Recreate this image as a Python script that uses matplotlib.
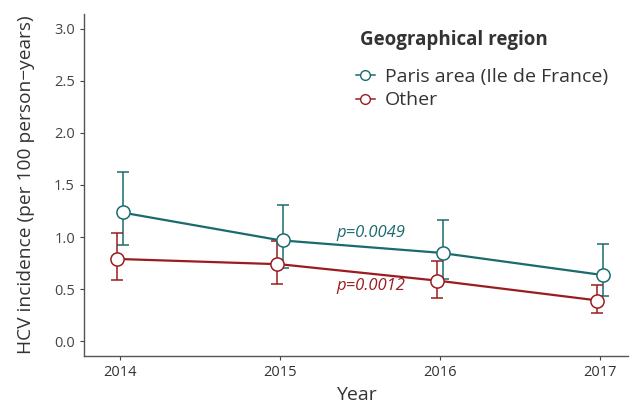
import matplotlib.pyplot as plt
from matplotlib.lines import Line2D
import numpy as np

years = [2014, 2015, 2016, 2017]
paris = [1.24, 0.97, 0.85, 0.64]
paris_lo = [0.92, 0.70, 0.60, 0.44]
paris_hi = [1.62, 1.31, 1.16, 0.93]
other = [0.79, 0.74, 0.58, 0.39]
other_lo = [0.59, 0.55, 0.42, 0.27]
other_hi = [1.04, 0.96, 0.77, 0.54]

TEAL = "#1b6b6e"
RED = "#9a1c20"
GREY = "#444444"

plt.rcParams['font.family'] = ['Open Sans', 'DejaVu Sans']

fig = plt.figure(figsize=(6.3, 4.05), dpi=100)
ax = fig.add_axes([84/630, 49/405, 544/630, 342/405])

yrs = np.array(years, dtype=float)
dodge = 0.02
series = [
    (paris, paris_lo, paris_hi, TEAL, +dodge, "Paris area (Ile de France)"),
    (other, other_lo, other_hi, RED, -dodge, "Other"),
]
handles = []
for vals, lo, hi, col, dx, lab in series:
    v = np.array(vals); l = np.array(lo); h = np.array(hi)
    ax.plot(yrs, v, color=col, lw=1.6, zorder=2)
    ax.errorbar(yrs + dx, v, yerr=[v - l, h - v], fmt='none', ecolor=col,
                elinewidth=1.1, capsize=4.5, capthick=1.1, zorder=3)
    ax.plot(yrs + dx, v, 'o', ms=9.5, mfc='white', mec=col, mew=1.1,
            zorder=4)
    handles.append(Line2D([], [], color=col, lw=1.1, marker='o', ms=7,
                          mfc='white', mec=col, mew=1.0, label=lab))

ax.text(2015.35, 1.0, "p=0.0049", color=TEAL, style='italic', fontsize=12)
ax.text(2015.35, 0.49, "p=0.0012", color=RED, style='italic', fontsize=12)

ax.set_xlim(2013.775, 2017.175)
ax.set_ylim(-0.14, 3.14)
ax.set_xticks(years)
ax.set_yticks([0, 0.5, 1.0, 1.5, 2.0, 2.5, 3.0])
ax.set_yticklabels(["0.0", "0.5", "1.0", "1.5", "2.0", "2.5", "3.0"])
ax.tick_params(colors=GREY, labelsize=10.5, length=3, width=0.8)
ax.tick_params(axis='x', labelcolor="#333333")
for s in ["top", "right"]:
    ax.spines[s].set_visible(False)
for s in ["left", "bottom"]:
    ax.spines[s].set_color("#555555")
    ax.spines[s].set_linewidth(1.0)

ax.set_xlabel("Year", fontsize=14, color="#333333", labelpad=4)
ax.set_ylabel("HCV incidence (per 100 person\u2212years)", fontsize=13.8,
              color="#333333", labelpad=14)

fig.text(360/630, 1 - 40/405, "Geographical region", fontsize=13.5,
         fontweight='bold', color="#333333", va='center', ha='left')
leg = ax.legend(handles=handles, loc='upper left',
                bbox_to_anchor=(342/630, 1 - 54/405),
                bbox_transform=fig.transFigure, frameon=False, fontsize=14,
                handlelength=1.0, handletextpad=0.5, labelspacing=0.3,
                borderpad=0.2)
for t in leg.get_texts():
    t.set_color("#333333")

fig.savefig("out.png", dpi=100)
